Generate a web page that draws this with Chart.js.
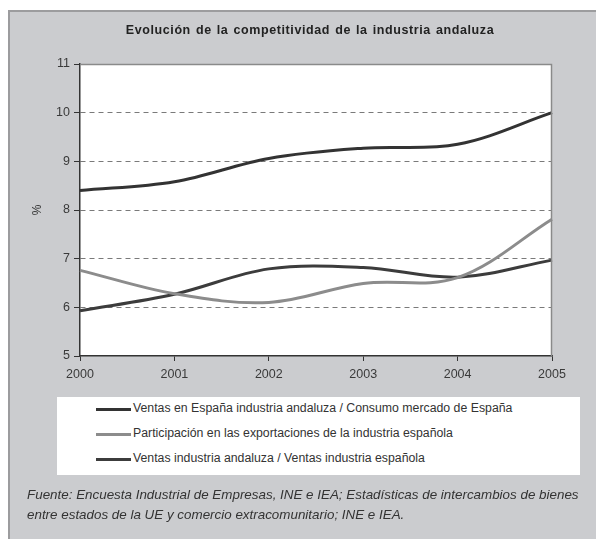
<!DOCTYPE html>
<html>
<head>
<meta charset="utf-8">
<script src="https://cdn.jsdelivr.net/npm/chart.js@4.4.1/dist/chart.umd.min.js"></script>
<style>
  html, body { margin: 0; padding: 0; background: #ffffff; }
  body { width: 596px; height: 539px; position: relative; overflow: hidden; font-family: "Liberation Sans", Arial, sans-serif; }
  #panel { position: absolute; left: 8px; top: 10px; right: 0; bottom: 0; background: #cbcccf; border-top: 2px solid #9c9c9e; border-left: 2px solid #9c9c9e; }
  #c { position: absolute; left: 0; top: 0; }
  #title { position: absolute; left: 8px; width: 604px; top: 23px; text-align: center; font-weight: bold; font-size: 12.5px; color: #222; letter-spacing: 0.6px; word-spacing: 1px; }
  #legend { position: absolute; left: 57px; top: 397px; width: 523px; height: 78px; background: #fff; }
  .item { position: absolute; left: 39px; height: 20px; font-size: 12.3px; color: #333; white-space: nowrap; }
  .item .ln { position: absolute; left: 0; top: 9px; width: 35px; height: 3px; }
  .item .tx { position: absolute; left: 37px; top: 2px; }
  #footer { position: absolute; left: 27px; top: 485px; font-size: 13.4px; font-style: italic; color: #333; line-height: 20px; white-space: nowrap; }
</style>
</head>
<body>
<div id="panel"></div>
<canvas id="c" width="596" height="539"></canvas>
<div id="title"></div>
<div id="legend"></div>
<div id="footer"></div>
<script>
const chartTitle = "Evolución de la competitividad de la industria andaluza";
const years = ["2000", "2001", "2002", "2003", "2004", "2005"];
const seriesNames = [
  "Ventas en España industria andaluza / Consumo mercado de España",
  "Participación en las exportaciones de la industria española",
  "Ventas industria andaluza / Ventas industria española"
];
const ventasEspana = [8.40, 8.58, 9.06, 9.27, 9.35, 10.00];
const participacionExport = [6.76, 6.28, 6.10, 6.49, 6.61, 7.81];
const ventasIndustria = [5.93, 6.27, 6.79, 6.82, 6.62, 6.97];
const yTicks = [5, 6, 7, 8, 9, 10, 11];
const yAxisTitle = "%";
const footerLines = [
  "Fuente: Encuesta Industrial de Empresas, INE e IEA; Estadísticas de intercambios de bienes",
  "entre estados de la UE y comercio extracomunitario; INE e IEA."
];
const seriesColors = ["#333333", "#8c8c8c", "#3c3c3c"];

document.getElementById('title').textContent = chartTitle;
const leg = document.getElementById('legend');
seriesNames.forEach((n, i) => {
  const d = document.createElement('div');
  d.className = 'item';
  d.style.top = (2 + i * 25) + 'px';
  d.innerHTML = '<span class="ln" style="background:' + seriesColors[i] + '"></span><span class="tx"></span>';
  d.querySelector('.tx').textContent = n;
  leg.appendChild(d);
});
const ft = document.getElementById('footer');
footerLines.forEach(l => { const d = document.createElement('div'); d.textContent = l; ft.appendChild(d); });

const plotBg = {
  id: 'plotBg',
  beforeDraw(chart) {
    const { ctx, chartArea: a } = chart;
    ctx.save();
    ctx.fillStyle = '#ffffff';
    ctx.fillRect(a.left, a.top, a.right - a.left, a.bottom - a.top);
    ctx.restore();
  },
  afterDraw(chart) {
    const { ctx, chartArea: a } = chart;
    ctx.save();
    ctx.strokeStyle = '#8a8a8a';
    ctx.lineWidth = 1.5;
    ctx.beginPath();
    ctx.moveTo(a.left, a.top + 0.5);
    ctx.lineTo(a.right - 0.5, a.top + 0.5);
    ctx.lineTo(a.right - 0.5, a.bottom);
    ctx.stroke();
    ctx.restore();
  }
};

const tickFont = { family: "'Liberation Sans', Arial, sans-serif", size: 12.5 };

new Chart(document.getElementById('c'), {
  type: 'line',
  data: {
    labels: years,
    datasets: [
      { label: seriesNames[0], data: ventasEspana, borderColor: seriesColors[0], borderWidth: 3, pointRadius: 0, tension: 0.35, fill: false },
      { label: seriesNames[1], data: participacionExport, borderColor: seriesColors[1], borderWidth: 3, pointRadius: 0, tension: 0.35, fill: false },
      { label: seriesNames[2], data: ventasIndustria, borderColor: seriesColors[2], borderWidth: 3, pointRadius: 0, tension: 0.35, fill: false }
    ]
  },
  options: {
    responsive: false,
    animation: false,
    layout: { padding: { left: 30, top: 64, right: 44, bottom: 153 } },
    plugins: { legend: { display: false }, tooltip: { enabled: false }, title: { display: false } },
    scales: {
      x: {
        type: 'category',
        offset: false,
        afterFit: s => { s.height = 30; },
        grid: { display: true, drawOnChartArea: false, drawTicks: true, tickLength: 5, tickColor: '#333', color: '#333' },
        border: { display: true, color: '#333', width: 1.5 },
        ticks: { color: '#3a3a3a', font: tickFont, padding: 6, maxRotation: 0 }
      },
      y: {
        min: 5, max: 11,
        afterFit: s => { s.width = 50; },
        afterBuildTicks: s => { s.ticks = yTicks.map(v => ({ value: v })); },
        grid: {
          drawTicks: true, tickLength: 6, tickColor: '#333',
          color: ctx => (ctx.tick && (ctx.tick.value === 5 || ctx.tick.value === 11)) ? 'rgba(0,0,0,0)' : '#7a7a7a',
          lineWidth: 1
        },
        border: { display: true, color: '#333', width: 1.5, dash: [5, 4] },
        ticks: { color: '#3a3a3a', font: tickFont, padding: 4 },
        title: { display: true, text: yAxisTitle, color: '#333', font: { family: "'Liberation Sans', Arial, sans-serif", size: 12 }, padding: { top: 0, bottom: 0 } }
      }
    }
  },
  plugins: [plotBg]
});
</script>
</body>
</html>
